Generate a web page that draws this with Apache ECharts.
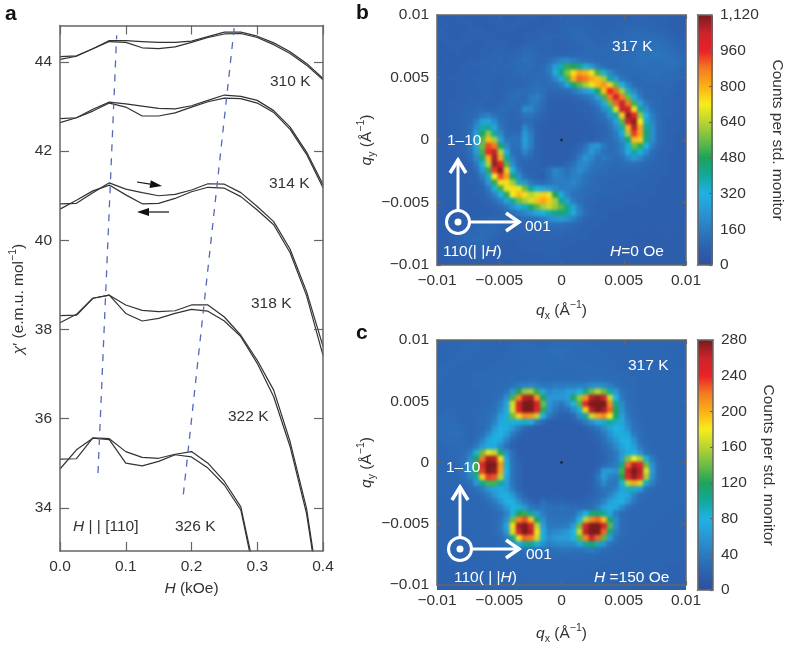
<!DOCTYPE html>
<html><head><meta charset="utf-8">
<style>html,body{margin:0;padding:0;background:#fff}
#stage{position:relative;width:786px;height:646px;overflow:hidden}
#heat,#c{position:absolute;left:0;top:0;width:786px;height:646px}
#heat{filter:blur(1.8px);clip-path:path('M437 15h249v250h-249z M437 340h249v250h-249z')}
</style>
<script src="https://cdn.jsdelivr.net/npm/echarts@6/dist/echarts.min.js"></script>
</head><body><div id="stage"><div id="heat"></div><div id="c"></div></div>
<script>
const fieldH=[0,0.025,0.05,0.075,0.1,0.125,0.15,0.175,0.2,0.225,0.25,0.275,0.3,0.325,0.35,0.375,0.4];
const chi310a=[44.06,44.13,44.3,44.46,44.44,44.32,44.3,44.34,44.44,44.55,44.63,44.64,44.55,44.39,44.19,43.93,43.6];
const chi310b=[44.12,44.14,44.3,44.48,44.48,44.46,44.44,44.44,44.47,44.57,44.67,44.67,44.58,44.43,44.23,43.97,43.63];
const chi314a=[42.64,42.75,42.9,43.08,42.99,42.79,42.79,42.86,42.99,43.11,43.19,43.18,43.08,42.87,42.49,41.93,41.18];
const chi314b=[42.73,42.75,42.94,43.1,43.06,43.01,42.96,42.95,43.02,43.14,43.26,43.23,43.14,42.91,42.54,41.98,41.25];
const chi318a=[40.7,40.9,41.11,41.24,41.02,40.82,40.83,40.94,41.09,41.19,41.17,40.98,40.68,40.35,39.72,38.76,37.42];
const chi318b=[40.82,40.83,41.07,41.29,41.15,41.07,41.0,41.03,41.13,41.27,41.26,41.07,40.76,40.42,39.8,38.85,37.62];
const chi322a=[38.15,38.34,38.7,38.77,38.36,38.19,38.25,38.36,38.45,38.41,38.19,37.84,37.24,36.49,35.37,33.87,31.45];
const chi322b=[38.31,38.32,38.7,38.77,38.55,38.43,38.4,38.42,38.55,38.55,38.28,37.87,37.31,36.64,35.48,33.98,31.55];
const chi326a=[34.87,35.3,35.56,35.53,35.0,34.94,35.04,35.19,35.14,34.89,34.51,33.95,32.2,null,null,null,null];
const chi326b=[35.09,35.1,35.57,35.55,35.26,35.13,35.11,35.2,35.26,35.0,34.59,34.02,32.3,null,null,null,null];
const guideLeft=[[0.0578,34.78],[0.0862,44.6]];
const guideRight=[[0.1876,34.3],[0.2651,44.79]];
const chiTicks=[34,36,38,40,42,44];
const fieldTicks=[0,0.1,0.2,0.3,0.4];
const fieldLabels=['0.0','0.1','0.2','0.3','0.4'];
const qTicks=[-0.01,-0.005,0,0.005,0.01];
const qLabels=['−0.01','−0.005','0','0.005','0.01'];
const barTicksB=[0,160,320,480,640,800,960,1120];
const barLabelsB=['0','160','320','480','640','800','960','1,120'];
const barTicksC=[0,40,80,120,160,200,240,280];
const centre=[[0,0]];
const colors=['#2f50a0','#2c62b0','#2b7cc0','#2a97d4','#1eb2e3','#12a89d','#1ea35a','#6cbd45','#b8d433','#f8ec1b','#fbb016','#f47b20','#ea2127','#c9252b','#7b1a1c'];
const countsB=[
[70,70,70,80,80,70,70,70,80,80,80,70,70,80,80,80,80,70,70,80,80,90,90,90,80,80,80,80,80,80,80,80,90,90,90,80,80,80,70,70,60],
[70,80,70,70,80,80,70,70,70,80,80,80,80,80,80,70,70,70,80,80,90,90,90,90,90,90,80,80,80,80,90,90,90,90,90,90,80,80,70,70,70],
[80,70,70,70,70,80,80,80,70,70,80,80,80,70,70,70,80,80,80,80,90,90,100,100,90,90,90,80,90,90,90,100,100,100,100,90,90,90,80,70,70],
[80,80,70,70,80,80,80,80,80,80,70,70,70,70,80,80,80,90,90,90,90,90,100,100,100,90,90,90,90,100,100,100,110,110,110,110,100,100,90,80,70],
[70,80,80,80,80,80,70,70,80,80,80,80,70,70,80,90,90,90,90,80,80,90,90,100,100,100,90,90,100,100,100,110,110,120,120,120,120,110,100,90,80],
[70,70,80,80,70,70,70,80,80,90,90,80,80,90,100,100,90,90,90,80,80,80,90,90,100,100,100,100,100,100,110,110,120,120,130,130,130,120,110,100,90],
[70,70,70,80,70,70,70,80,90,90,90,90,90,100,110,110,100,90,90,90,90,90,90,100,100,100,100,100,100,110,110,110,120,130,130,140,140,130,120,110,100],
[70,80,70,70,70,80,80,90,90,90,100,90,100,110,120,110,100,100,110,150,190,200,170,140,120,110,100,100,100,100,110,120,120,130,130,130,130,130,130,120,100],
[70,70,70,70,80,80,90,90,90,100,90,100,100,110,110,110,100,100,150,250,380,500,480,420,340,240,160,120,100,100,110,110,120,120,120,120,120,120,120,120,100],
[70,70,70,80,80,80,80,90,90,90,90,90,100,100,110,100,100,110,150,300,430,580,740,830,800,700,520,340,200,130,110,110,110,110,110,120,120,110,110,100,90],
[70,70,80,80,80,80,90,90,90,90,80,90,90,90,100,100,110,110,120,190,300,520,800,900,880,810,780,620,400,240,140,110,100,100,110,110,110,110,100,100,90],
[70,70,70,80,80,80,90,90,90,80,80,90,90,90,100,110,120,110,110,120,170,280,450,540,620,700,790,840,760,540,320,180,110,100,100,100,100,100,100,90,80],
[70,70,70,80,80,80,80,90,90,80,90,90,100,110,110,120,130,120,100,100,100,110,150,200,260,340,480,780,960,900,620,360,190,120,100,100,100,100,90,90,80],
[70,70,70,80,80,90,80,90,90,80,80,100,110,110,100,150,170,130,90,80,80,80,90,110,130,170,270,520,880,1020,880,560,300,160,100,100,100,90,90,80,80],
[70,70,80,80,80,90,90,90,80,80,90,100,110,100,110,150,150,110,80,70,70,70,80,80,90,120,170,300,560,900,1040,880,520,280,150,110,100,90,90,80,80],
[70,70,80,80,90,90,100,100,90,90,110,110,100,100,210,190,130,100,80,70,70,70,70,80,80,90,120,210,380,680,1040,1030,740,420,220,130,100,90,90,80,80],
[70,70,80,80,90,100,110,150,170,130,110,100,90,100,130,140,110,90,70,70,70,60,70,70,80,80,100,130,230,400,760,1100,980,600,310,170,110,90,90,80,70],
[70,70,80,80,90,100,160,270,290,210,120,100,90,90,110,110,90,80,70,60,60,60,60,70,70,80,90,110,150,270,540,1040,1100,720,360,190,110,90,80,80,70],
[70,70,80,80,90,110,210,380,410,280,150,100,90,90,190,130,80,70,60,60,60,60,60,70,70,70,80,90,120,210,380,800,1060,820,420,210,110,90,80,80,70],
[70,70,80,80,90,120,260,470,600,400,200,110,110,110,240,160,80,70,60,60,60,60,60,60,70,70,80,90,110,160,290,620,940,820,450,220,110,90,80,70,70],
[70,70,80,80,90,130,290,540,780,620,270,140,130,130,260,170,80,70,60,60,60,60,60,60,70,70,90,100,110,140,210,440,780,760,430,210,110,90,80,70,70],
[70,70,80,80,90,130,290,560,930,880,460,200,120,130,250,170,80,70,60,60,60,60,70,90,130,220,240,150,110,120,170,340,560,500,320,170,100,90,80,70,70],
[70,70,70,80,90,120,250,520,950,1050,640,290,120,110,190,130,80,70,60,60,60,60,80,110,170,240,180,130,110,120,170,300,400,340,210,110,90,80,80,70,70],
[70,70,70,80,80,110,200,440,800,1080,820,400,170,100,110,100,80,70,60,60,60,70,90,160,230,190,130,150,130,110,120,190,240,200,130,100,90,80,70,70,70],
[70,70,70,70,80,90,150,330,640,1090,970,530,220,110,90,80,80,70,70,70,80,100,130,190,200,150,120,120,110,100,110,120,120,110,100,90,90,80,70,70,70],
[70,70,70,70,80,80,110,250,500,940,1110,760,320,150,90,80,80,90,130,190,160,130,170,210,170,130,110,110,100,100,100,100,100,100,90,90,80,80,70,70,70],
[70,70,70,70,70,80,90,170,360,720,930,820,460,220,110,90,80,70,120,180,170,140,170,170,130,110,100,100,100,90,90,90,90,90,90,80,80,80,70,70,70],
[70,70,70,70,70,80,80,110,240,500,740,740,610,380,230,150,110,100,130,160,160,170,190,160,130,110,100,100,90,90,90,90,90,90,80,80,80,70,70,70,70],
[70,70,70,70,70,70,80,90,150,330,510,700,740,700,560,400,310,290,240,200,170,170,160,130,110,100,100,90,90,90,90,90,90,80,80,80,70,70,70,70,70],
[70,70,70,70,70,70,80,80,110,180,320,490,720,790,740,640,680,760,700,480,300,180,130,120,110,100,90,90,90,90,80,80,80,80,80,80,70,70,70,70,70],
[70,70,60,70,70,70,70,80,90,120,170,270,400,560,620,680,780,820,770,620,420,260,160,110,100,90,90,80,80,80,80,80,80,80,80,70,70,70,70,70,70],
[70,60,60,70,70,70,70,70,80,90,110,150,220,290,370,450,540,620,660,610,540,420,270,160,100,90,80,80,80,80,80,70,70,70,80,70,70,70,70,70,70],
[70,60,60,70,70,70,70,70,70,80,90,100,120,150,190,230,280,330,380,420,450,410,290,180,110,90,80,80,70,70,70,70,70,70,70,70,70,70,70,70,70],
[70,70,60,60,70,70,70,80,90,90,90,90,100,100,110,120,130,160,200,230,250,220,170,120,90,80,80,80,70,70,70,70,70,70,70,70,70,70,70,70,60],
[70,70,70,70,70,80,90,100,100,100,90,90,90,90,90,100,100,110,110,120,120,110,100,90,80,80,80,70,70,70,70,70,70,70,70,60,70,70,70,70,60],
[70,70,70,80,90,100,100,110,110,100,90,80,80,90,90,90,90,90,90,100,100,90,90,80,80,80,70,70,70,70,70,70,70,70,60,60,60,70,70,60,60],
[70,70,80,90,100,100,110,110,100,90,80,80,80,80,80,80,90,90,90,90,90,80,80,80,80,70,70,70,70,70,70,70,60,60,60,60,60,60,70,60,60],
[70,70,80,90,90,100,100,100,90,80,80,70,70,80,80,80,80,80,80,80,80,80,80,70,70,70,70,70,70,70,70,60,60,60,60,60,60,60,60,60,60],
[70,70,70,80,90,90,90,90,80,80,70,70,70,70,80,80,80,80,80,80,80,70,70,70,70,70,70,70,60,60,60,60,60,60,60,60,60,60,60,60,60],
[60,70,70,70,80,80,80,80,70,70,70,70,70,70,70,70,70,70,80,80,70,70,70,70,70,70,60,60,60,60,60,60,60,60,60,60,60,60,60,60,60],
[60,60,70,70,70,70,70,70,70,70,70,60,60,70,70,70,70,70,70,70,70,70,70,70,70,60,60,60,60,60,60,60,60,60,60,60,60,60,60,60,60]
];
const countsC=[
[22,22,24,24,24,26,26,24,24,22,22,24,24,26,26,26,24,24,26,28,28,28,26,26,26,24,24,24,24,24,24,24,24,24,24,24,24,24,22,22,22],
[22,24,24,24,26,26,26,24,24,24,24,24,26,26,28,28,26,26,28,30,30,30,28,26,26,26,26,24,24,24,24,24,24,24,24,24,24,24,22,22,22],
[22,24,24,26,26,26,24,24,24,24,24,26,26,26,28,28,28,28,28,30,30,28,28,26,26,26,26,26,24,24,24,24,24,24,24,24,24,24,24,22,22],
[24,24,26,26,26,24,24,24,24,24,26,26,26,26,26,28,28,28,28,28,28,28,28,26,26,26,26,26,26,24,24,24,24,24,24,24,24,24,24,22,22],
[24,26,26,24,24,24,24,24,26,26,26,26,26,26,26,26,28,28,28,26,26,26,26,28,28,28,26,26,26,26,24,24,24,24,24,24,24,24,24,24,22],
[26,26,24,24,24,24,26,26,26,26,26,26,26,26,28,28,28,28,26,26,26,26,26,28,28,28,28,28,26,26,26,26,24,24,24,24,24,24,24,24,24],
[26,24,24,24,24,24,26,26,26,26,26,26,28,28,28,30,30,28,28,28,28,28,28,28,30,30,30,30,28,28,26,26,26,24,24,24,24,24,24,24,24],
[24,24,24,24,24,24,26,26,26,26,28,28,32,38,44,46,42,36,36,40,40,40,40,42,44,50,54,50,42,32,28,26,26,24,24,24,24,24,24,24,24],
[24,24,24,24,24,24,24,26,26,26,28,34,60,120,150,155,125,70,48,55,55,65,65,80,105,140,160,140,100,60,32,28,26,24,24,24,24,24,24,24,24],
[24,24,24,24,24,24,24,26,26,28,32,55,130,215,265,270,210,115,60,60,60,65,115,150,210,265,275,255,165,80,38,28,26,24,24,24,24,24,24,24,24],
[24,24,24,24,24,24,24,26,26,30,40,70,170,255,280,280,250,140,60,45,35,55,80,135,240,280,280,280,215,105,50,30,26,24,24,24,24,24,24,24,24],
[24,26,26,24,24,24,26,26,28,32,48,75,170,250,280,280,240,125,55,35,28,30,50,85,190,265,280,270,225,120,55,32,28,24,24,24,24,24,24,24,24],
[26,28,26,24,24,24,26,26,30,38,65,85,140,190,215,210,160,80,40,25,20,20,25,50,100,165,205,215,180,115,65,38,28,26,24,24,24,24,24,24,24],
[26,28,28,26,24,24,26,28,32,45,70,85,85,85,90,75,40,25,18,16,16,16,18,25,40,55,75,90,100,90,70,45,30,26,24,24,24,24,24,24,24],
[26,28,30,28,26,24,26,28,35,60,80,75,60,40,25,18,16,15,15,15,15,15,15,16,20,26,35,50,70,80,75,55,32,28,26,24,24,24,24,24,24],
[28,28,30,30,26,24,26,32,50,75,80,65,40,25,18,16,15,15,15,15,15,15,15,15,16,20,26,35,55,75,85,70,40,30,26,24,24,24,24,24,24],
[26,28,28,28,26,24,30,45,70,80,70,45,25,18,16,15,15,15,15,15,15,15,15,15,15,18,22,30,45,60,80,80,55,32,26,24,24,24,24,24,24],
[24,26,26,26,26,28,40,60,75,75,50,30,20,16,15,15,15,15,15,15,15,15,15,15,15,16,18,26,35,50,70,80,65,40,28,24,24,24,24,24,24],
[24,24,26,26,28,40,85,140,175,165,115,55,30,18,15,15,15,15,15,15,15,15,15,15,15,15,18,22,30,40,60,75,80,55,32,26,24,24,24,24,24],
[24,24,24,26,30,50,115,220,270,265,185,70,30,20,15,15,15,15,15,15,15,15,15,15,15,15,18,22,28,38,65,145,180,155,85,40,26,24,24,24,24],
[24,24,24,26,34,60,130,245,280,280,210,85,32,22,16,15,15,15,15,15,15,15,15,15,15,16,20,26,32,40,105,225,265,245,140,55,28,24,24,24,24],
[24,24,24,26,34,58,125,235,280,275,205,80,32,22,16,15,15,15,15,15,15,15,15,15,15,18,25,60,60,55,130,260,280,265,170,60,28,24,24,24,24],
[24,24,24,26,30,45,100,190,235,230,160,70,32,22,16,15,15,15,15,15,15,15,15,15,15,18,35,65,45,40,120,240,275,250,155,55,28,24,24,24,24],
[24,24,24,24,26,28,60,105,130,130,100,65,35,22,16,15,15,15,15,15,15,15,15,15,16,20,30,50,35,35,85,160,205,165,90,42,26,24,24,24,24],
[24,24,24,24,24,26,30,40,60,70,75,65,40,25,18,15,15,15,15,15,15,15,15,15,16,20,26,35,35,45,70,90,90,65,32,26,24,24,24,24,24],
[24,24,24,24,24,24,26,30,40,60,75,80,60,35,22,16,15,15,16,18,18,16,15,16,18,22,26,32,45,65,75,70,45,28,26,24,24,24,24,24,24],
[22,24,24,24,24,24,24,26,30,40,60,80,80,55,35,24,20,30,24,22,24,22,20,20,22,26,30,45,65,75,80,60,35,26,24,24,24,24,24,24,24],
[22,22,24,24,24,24,24,24,26,30,40,60,80,85,60,38,32,35,30,30,32,30,28,26,26,28,42,65,75,70,50,30,26,24,24,24,24,24,24,24,22],
[22,22,22,24,24,24,24,24,24,26,30,45,80,120,125,100,60,40,32,30,30,30,30,50,80,110,115,100,70,40,28,26,24,24,24,24,24,24,24,22,22],
[22,22,22,22,24,24,24,24,24,26,32,55,140,215,230,195,115,55,34,32,32,34,40,80,160,215,225,195,115,50,28,26,24,24,24,24,24,22,22,22,22],
[22,22,22,22,24,24,24,24,24,26,36,70,185,270,280,250,160,65,38,36,38,40,65,140,250,280,280,250,135,50,28,26,24,24,24,24,22,22,22,22,22],
[22,22,22,22,22,24,24,24,24,26,34,60,170,255,280,265,185,75,45,50,55,60,80,165,265,280,280,225,110,42,28,26,24,24,24,24,22,22,22,22,22],
[22,22,22,22,22,24,24,24,24,24,28,40,105,185,225,220,165,85,52,60,65,65,80,135,215,255,225,135,65,32,26,24,24,24,24,22,22,22,22,22,22],
[22,22,22,22,22,22,24,24,24,24,26,30,45,75,100,105,85,55,44,48,50,50,52,70,100,115,95,55,34,28,24,24,24,24,22,22,22,22,22,22,22],
[22,22,22,22,22,22,22,24,24,24,24,26,26,28,32,36,32,30,30,32,34,34,32,32,36,40,34,28,26,24,24,24,24,22,22,22,22,22,22,22,22],
[20,22,22,22,22,22,22,22,24,24,24,24,24,26,26,26,26,26,26,26,28,26,26,26,26,26,26,24,24,24,24,22,22,22,22,22,22,22,22,22,22],
[20,20,22,22,22,22,22,22,22,24,24,24,24,24,24,24,24,24,24,24,24,24,24,24,24,24,24,24,24,22,22,22,22,22,22,22,22,22,22,22,20],
[20,20,20,22,22,22,22,22,22,22,24,24,24,24,24,24,24,24,24,24,24,24,24,24,24,24,24,22,22,22,22,22,22,22,22,22,22,22,20,20,20],
[20,20,20,20,22,22,22,22,22,22,22,22,24,24,24,24,24,24,24,24,24,24,24,24,24,22,22,22,22,22,22,22,22,22,22,22,20,20,20,20,20],
[20,20,20,20,20,22,22,22,22,22,22,22,22,22,22,24,24,24,24,24,24,24,22,22,22,22,22,22,22,22,22,22,22,22,20,20,20,20,20,20,20],
[20,20,20,20,20,20,20,22,22,22,22,22,22,22,22,22,22,22,22,22,22,22,22,22,22,22,22,22,22,22,22,22,20,20,20,20,20,20,20,20,20]
];

const FONT='"Liberation Sans",Arial,sans-serif', FS=15.5, TXT='#333', EDGE='#666';
const rich={i:{fontStyle:'italic',fontSize:FS,fontFamily:FONT,lineHeight:22,color:TXT},
  s:{fontSize:10.5,fontFamily:FONT,verticalAlign:'bottom',lineHeight:20,color:TXT},
  u:{fontSize:10.5,fontFamily:FONT,verticalAlign:'top',lineHeight:20,color:TXT},
  t:{fontSize:FS,fontFamily:FONT,lineHeight:22,color:TXT}};
const nameStyle={fontSize:FS,fontFamily:FONT,color:TXT,rich};
const idx=n=>Array.from({length:n},(_,i)=>String(i));

function valueAxis(g,pos,min,max,ticks,labels,len,extra){
  return Object.assign({type:'value',gridIndex:g,position:pos,min,max,z:10,splitLine:{show:false},
    axisLine:{show:true,onZero:false,lineStyle:{color:EDGE,width:1.5}},
    axisTick:ticks?{show:true,inside:true,length:len,customValues:ticks,lineStyle:{color:EDGE,width:1.2}}:{show:false},
    axisLabel:labels?{show:true,customValues:ticks,margin:8,fontSize:FS,fontFamily:FONT,color:TXT,hideOverlap:false,
      formatter:v=>{const k=ticks.findIndex(t=>Math.abs(t-v)<1e-9);return k<0?'':labels[k];}}:{show:false}},extra||{});
}
const qx='{i|q}{s|x}{t| (Å}{u|−1}{t|)}', qy='{i|q}{s|y}{t| (Å}{u|−1}{t|)}';
const grids=[
 {left:60,top:25.5,width:263,height:525.5},
 {left:437,top:15,width:249,height:250},
 {left:437,top:340,width:249,height:250},
 {left:697.5,top:15,width:15.5,height:250},
 {left:697.5,top:340,width:15.5,height:250}
];
const xAxes=[
 valueAxis(0,'bottom',0,0.4,fieldTicks,fieldLabels,9,{name:'{i|H}{t| (kOe)}',nameLocation:'middle',nameGap:27,nameTextStyle:nameStyle}),
 valueAxis(0,'top',0,0.4,fieldTicks,null,9),
 valueAxis(1,'bottom',-0.01,0.01,qTicks,qLabels,4,{name:qx,nameLocation:'middle',nameGap:35,nameTextStyle:nameStyle}),
 valueAxis(1,'top',-0.01,0.01,qTicks,null,4),
 valueAxis(2,'bottom',-0.01,0.01,qTicks,qLabels,4,{name:qx,nameLocation:'middle',nameGap:38,nameTextStyle:nameStyle}),
 valueAxis(2,'top',-0.01,0.01,qTicks,null,4),
 valueAxis(3,'bottom',0,1,null,null,0),valueAxis(3,'top',0,1,null,null,0),
 valueAxis(4,'bottom',0,1,null,null,0),valueAxis(4,'top',0,1,null,null,0)
];
const yAxes=[
 valueAxis(0,'left',33.03,44.82,chiTicks,chiTicks.map(String),9,{name:'{i|χ}{t|′ (e.m.u. mol}{u|−1}{t|)\u00a0\u00a0\u00a0\u00a0\u00a0}',nameLocation:'middle',nameGap:30,nameRotate:90,nameTextStyle:nameStyle}),
 valueAxis(0,'right',33.03,44.82,chiTicks,null,9),
 valueAxis(1,'left',-0.01,0.01,qTicks,qLabels,4,{name:qy,nameLocation:'middle',nameGap:39,nameRotate:90,nameTextStyle:nameStyle}),
 valueAxis(1,'right',-0.01,0.01,qTicks,null,4),
 valueAxis(2,'left',-0.01,0.01,qTicks,qLabels,4,{name:qy,nameLocation:'middle',nameGap:39,nameRotate:90,nameTextStyle:nameStyle}),
 valueAxis(2,'right',-0.01,0.01,qTicks,null,4),
 valueAxis(3,'left',0,1120,null,null,0),
 valueAxis(3,'right',0,1120,barTicksB,barLabelsB,3,{name:'Counts per std. monitor',nameLocation:'middle',nameGap:57,nameRotate:-90,nameTextStyle:{fontSize:FS,fontFamily:FONT,color:TXT}}),
 valueAxis(4,'left',0,280,null,null,0),
 valueAxis(4,'right',0,280,barTicksC,barTicksC.map(String),3,{name:'Counts per std. monitor',nameLocation:'middle',nameGap:47,nameRotate:-90,nameTextStyle:{fontSize:FS,fontFamily:FONT,color:TXT}})
];
const lineOf=vals=>({type:'line',xAxisIndex:0,yAxisIndex:0,symbol:'none',connectNulls:false,clip:true,z:3,
  lineStyle:{color:'#333',width:1.2},data:fieldH.map((h,i)=>[h,vals[i]])});
const guide=d=>({type:'line',xAxisIndex:0,yAxisIndex:0,symbol:'none',z:4,lineStyle:{color:'#5468b4',width:1.3,type:[7,7]},data:d});
const dot=(xi,yi)=>({type:'scatter',xAxisIndex:xi,yAxisIndex:yi,data:centre,symbolSize:2.5,itemStyle:{color:'#111'},z:6});
const series=[lineOf(chi310a),lineOf(chi310b),lineOf(chi314a),lineOf(chi314b),lineOf(chi318a),lineOf(chi318b),lineOf(chi322a),lineOf(chi322b),lineOf(chi326a),lineOf(chi326b),
 guide(guideLeft),guide(guideRight),dot(2,2),dot(4,4)];

const text=(x,y,s,o)=>({type:'text',x,y,z:20,silent:true,style:Object.assign({text:s,fill:TXT,font:FS+'px '+FONT,verticalAlign:'middle',align:'left'},o||{})});
const W='#fff';
const whiteRich={i:{fontStyle:'italic',fontSize:FS,fontFamily:FONT,fill:W,color:W},t:{fontSize:FS,fontFamily:FONT,fill:W,color:W}};
const wline=(pts,w)=>({type:'polyline',z:20,silent:true,shape:{points:pts},style:{stroke:W,lineWidth:w||3.5,fill:null}});
const axesIcon=(cx,cy,tipY,tipX)=>[
 {type:'circle',z:20,silent:true,shape:{cx,cy,r:11.5},style:{stroke:W,lineWidth:3,fill:null}},
 {type:'circle',z:20,silent:true,shape:{cx,cy,r:3.5},style:{fill:W}},
 wline([[cx,cy-12],[cx,tipY]],3),wline([[cx-8,tipY+14],[cx,tipY+1],[cx+8,tipY+14]]),
 wline([[cx+12,cy],[tipX,cy]],3),wline([[tipX-14,cy-9],[tipX-1,cy],[tipX-14,cy+9]])
];
const arrow=(x1,y1,x2,y2)=>{const a=Math.atan2(y2-y1,x2-x1),L=12,H=4;const bx=x2-L*Math.cos(a),by=y2-L*Math.sin(a),nx=-Math.sin(a)*H,ny=Math.cos(a)*H;
 return [{type:'line',z:20,silent:true,shape:{x1,y1,x2:bx,y2:by},style:{stroke:'#111',lineWidth:1.2}},
 {type:'polygon',z:20,silent:true,shape:{points:[[x2,y2],[bx+nx,by+ny],[bx-nx,by-ny]]},style:{fill:'#111'}}];};
const bold={font:'bold 21px '+FONT,fill:'#111'};
const graphic=[
 text(5,14,'a',bold),text(356,13,'b',bold),text(356,333,'c',bold),
 text(270,82,'310 K'),text(269,184,'314 K'),text(251,304,'318 K'),text(228,417,'322 K'),text(175,527,'326 K'),
 text(73,527,'{i|H}{t| | | [110]}',{rich}),
 ...arrow(137,182,162,186),...arrow(169,212,137,212),
 text(612,47,'317 K',{fill:W}),text(447,141,'1–10',{fill:W}),text(525,227,'001',{fill:W}),
 text(443,252,'{t|110(| |}{i|H}{t|)}',{rich:whiteRich}),text(610,252,'{i|H}{t|=0 Oe}',{rich:whiteRich}),
 ...axesIcon(458,222,159,520),
 text(628,366,'317 K',{fill:W}),text(446,468,'1–10',{fill:W}),text(526,555,'001',{fill:W}),
 text(454,578,'{t|110( | |}{i|H}{t|)}',{rich:whiteRich}),text(594,578,'{i|H}{t| =150 Oe}',{rich:whiteRich}),
 ...axesIcon(460,549,486,520)
];
const heat=(rows,g)=>{const d=[];rows.forEach((r,j)=>r.forEach((v,i)=>d.push([i,j,v])));
  return {type:'heatmap',xAxisIndex:g,yAxisIndex:g,data:d,progressive:0,itemStyle:{borderWidth:0},emphasis:{disabled:true}};};
const heatChart=echarts.init(document.getElementById('heat'),null,{renderer:'canvas'});
heatChart.setOption({animation:false,backgroundColor:'#2d5bab',
 grid:[grids[1],grids[2]],
 xAxis:[{type:'category',gridIndex:0,data:idx(41),show:false},{type:'category',gridIndex:1,data:idx(41),show:false}],
 yAxis:[{type:'category',gridIndex:0,data:idx(41),inverse:true,show:false},{type:'category',gridIndex:1,data:idx(41),inverse:true,show:false}],
 visualMap:[{type:'continuous',show:false,seriesIndex:0,min:0,max:1120,inRange:{color:colors}},{type:'continuous',show:false,seriesIndex:1,min:0,max:280,inRange:{color:colors}}],
 series:[heat(countsB,0),heat(countsC,1)]});
const vm=(max,top)=>({type:'continuous',seriesIndex:[],min:0,max,left:697.5,top,itemWidth:15.5,itemHeight:250,padding:0,calculable:false,hoverLink:false,inRange:{color:colors}});
const chart=echarts.init(document.getElementById('c'),null,{renderer:'canvas'});
chart.setOption({animation:false,backgroundColor:'transparent',textStyle:{fontFamily:FONT},grid:grids,xAxis:xAxes,yAxis:yAxes,series,graphic,
 visualMap:[vm(1120,15),vm(280,340)]});
</script></body></html>
